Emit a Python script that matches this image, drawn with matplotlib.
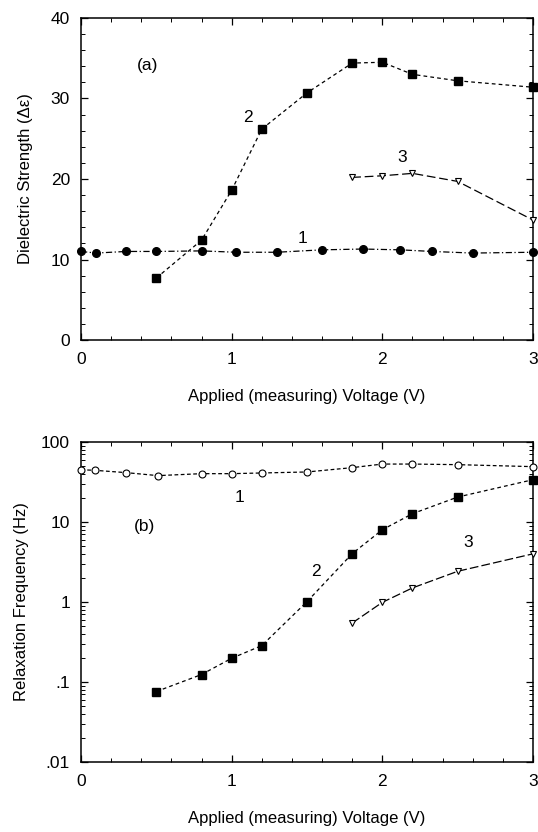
import matplotlib
matplotlib.use("Agg")
import matplotlib.pyplot as plt
from matplotlib.ticker import MultipleLocator, LogLocator, FixedLocator, FixedFormatter, NullFormatter

plt.rcParams['font.family'] = ['Liberation Sans', 'DejaVu Sans']

# ---- Panel (a): dielectric strength ----
a1_v = [0, 0.1, 0.3, 0.5, 0.8, 1.03, 1.3, 1.6, 1.87, 2.12, 2.33, 2.6, 3.0]
a1_y = [11.0, 10.8, 11.0, 11.0, 11.07, 10.9, 10.9, 11.2, 11.3, 11.2, 11.0, 10.8, 10.9]
a2_v = [0.5, 0.8, 1.0, 1.2, 1.5, 1.8, 2.0, 2.2, 2.5, 3.0]
a2_y = [7.7, 12.4, 18.6, 26.2, 30.7, 34.4, 34.5, 33.0, 32.2, 31.4]
a3_v = [1.8, 2.0, 2.2, 2.5, 3.0]
a3_y = [20.2, 20.4, 20.7, 19.7, 14.9]

# ---- Panel (b): relaxation frequency ----
b1_v = [0, 0.09, 0.3, 0.51, 0.8, 1.0, 1.2, 1.5, 1.8, 2.0, 2.2, 2.5, 3.0]
b1_y = [45, 44.3, 41.4, 38, 40.2, 40.2, 41, 42.2, 47.8, 53, 53, 52.1, 49.2]
b2_v = [0.5, 0.8, 1.0, 1.2, 1.5, 1.8, 2.0, 2.2, 2.5, 3.0]
b2_y = [0.076, 0.124, 0.198, 0.285, 1.01, 4.02, 8.0, 12.7, 20.5, 33.8]
b3_v = [1.8, 2.0, 2.2, 2.5, 3.0]
b3_y = [0.546, 0.99, 1.5, 2.42, 4.0]

x_ticks = [0, 1, 2, 3]
x_ticklabels = ['0', '1', '2', '3']
a_yticks = [0, 10, 20, 30, 40]
a_yticklabels = ['0', '10', '20', '30', '40']
b_yticks = [0.01, 0.1, 1, 10, 100]
b_yticklabels = ['.01', '.1', '1', '10', '100']

xlabel = 'Applied (measuring) Voltage (V)'
a_ylabel = 'Dielectric Strength (\u0394\u03b5)'
b_ylabel = 'Relaxation Frequency (Hz)'

W, H = 538, 832
fig = plt.figure(figsize=(W / 100, H / 100), dpi=100)

def box(l, r, t, b):
    return [l / W, 1 - b / H, (r - l) / W, (b - t) / H]

axA = fig.add_axes(box(81, 533, 18, 340))
axB = fig.add_axes(box(81, 533, 442, 762))

lw = 0.9
axA.plot(a1_v, a1_y, color='black', lw=lw, dashes=(5, 2, 1, 2), marker='o', ms=5.5,
         mfc='black', mec='black', clip_on=False, zorder=3)
axA.plot(a2_v, a2_y, color='black', lw=lw, dashes=(3, 2.5), marker='s', ms=5.5,
         mfc='black', mec='black', clip_on=False, zorder=3)
axA.plot(a3_v, a3_y, color='black', lw=lw, dashes=(7, 3), marker='v', ms=5,
         mfc='white', mec='black', mew=0.8, clip_on=False, zorder=3)

axB.plot(b1_v, b1_y, color='black', lw=lw, dashes=(3, 2), marker='o', ms=5,
         mfc='white', mec='black', mew=0.8, clip_on=False, zorder=3)
axB.plot(b2_v, b2_y, color='black', lw=lw, dashes=(3, 2.5), marker='s', ms=5.5,
         mfc='black', mec='black', clip_on=False, zorder=3)
axB.plot(b3_v, b3_y, color='black', lw=lw, dashes=(7, 2.5), marker='v', ms=5,
         mfc='white', mec='black', mew=0.8, clip_on=False, zorder=3)

fs_tick = 12.5
fs_lab = 12

for ax in (axA, axB):
    ax.set_xlim(0, 3)
    ax.xaxis.set_major_locator(FixedLocator(x_ticks))
    ax.xaxis.set_major_formatter(FixedFormatter(x_ticklabels))
    ax.xaxis.set_minor_locator(MultipleLocator(0.2))
    ax.tick_params(which='both', direction='in', top=True, right=True, color='black')
    ax.tick_params(which='major', length=5, width=0.9, labelsize=fs_tick)
    ax.tick_params(axis='x', which='major', pad=9)
    ax.tick_params(axis='y', which='major', pad=8)
    ax.tick_params(which='minor', length=3, width=0.7)
    for s in ax.spines.values():
        s.set_linewidth(1.1)
    ax.set_xlabel(xlabel, fontsize=fs_lab)

axA.set_ylim(0, 40)
axA.yaxis.set_major_locator(FixedLocator(a_yticks))
axA.yaxis.set_major_formatter(FixedFormatter(a_yticklabels))
axA.yaxis.set_minor_locator(MultipleLocator(2))
axA.set_ylabel(a_ylabel, fontsize=fs_lab)
axA.xaxis.set_label_coords(0.5, -0.152)
axA.yaxis.set_label_coords(-0.106, 0.5)

axB.set_yscale('log')
axB.set_ylim(0.01, 100)
axB.yaxis.set_major_locator(FixedLocator(b_yticks))
axB.yaxis.set_major_formatter(FixedFormatter(b_yticklabels))
axB.yaxis.set_minor_locator(LogLocator(base=10, subs=range(2, 10)))
axB.yaxis.set_minor_formatter(NullFormatter())
axB.set_ylabel(b_ylabel, fontsize=fs_lab)
axB.xaxis.set_label_coords(0.5, -0.153)
axB.yaxis.set_label_coords(-0.115, 0.5)

fs_ann = 12.5
axA.text(0.44, 34.1, '(a)', fontsize=fs_ann, ha='center', va='center')
axA.text(1.47, 12.6, '1', fontsize=fs_ann, ha='center', va='center')
axA.text(1.11, 27.7, '2', fontsize=fs_ann, ha='center', va='center')
axA.text(2.13, 22.7, '3', fontsize=fs_ann, ha='center', va='center')

axB.text(0.42, 8.8, '(b)', fontsize=fs_ann, ha='center', va='center')
axB.text(1.05, 20.5, '1', fontsize=fs_ann, ha='center', va='center')
axB.text(1.56, 2.44, '2', fontsize=fs_ann, ha='center', va='center')
axB.text(2.57, 5.5, '3', fontsize=fs_ann, ha='center', va='center')

fig.savefig('out.png', dpi=100)
